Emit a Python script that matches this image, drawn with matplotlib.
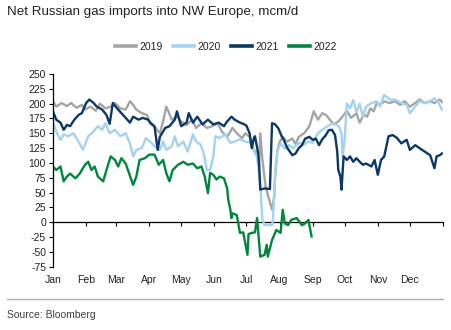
import matplotlib
matplotlib.use("Agg")
import matplotlib.pyplot as plt

plt.rcParams['font.family'] = ['Liberation Sans', 'DejaVu Sans']

title = "Net Russian gas imports into NW Europe, mcm/d"
source = "Source: Bloomberg"
month_labels = ["Jan", "Feb", "Mar", "Apr", "May", "Jun", "Jul", "Aug", "Sep", "Oct", "Nov", "Dec"]
month_starts = [0, 31, 59, 90, 120, 151, 181, 212, 243, 273, 304, 334, 365]
y_ticks = [-75, -50, -25, 0, 25, 50, 75, 100, 125, 150, 175, 200, 225, 250]

# Day-of-year readings for each year
days_2019 = [0, 3, 8, 13, 17, 22, 27, 30, 35, 40, 44, 49, 54, 58, 63, 68, 72, 75, 78, 83, 88, 91, 96, 100,
             103, 106, 108, 111, 116, 120, 125, 130, 134, 139, 144, 149, 154, 158, 163, 168, 172, 177, 180,
             184, 188, 191, 193, 194, 196, 199, 202, 205, 207, 208, 210, 212, 215, 219, 224, 227, 230, 235,
             240, 244, 248, 252, 256, 259, 263, 267, 270, 275, 279, 284, 287, 291, 294, 297, 300, 303, 306,
             310, 315, 320, 325, 329, 334, 339, 343, 348, 353, 357, 362, 364]
vals_2019 = [204, 195, 201, 196, 201, 193, 198, 190, 195, 188, 200, 192, 195, 201, 192, 190, 204, 198, 190,
             184, 181, 166, 159, 150, 170, 195, 187, 173, 178, 170, 164, 173, 159, 167, 159, 162, 167, 153,
             144, 159, 150, 142, 150, 144, 122, 117, 94, 150, 105, 60, 40, 21, 43, 80, 120, 135, 144, 136,
             141, 132, 144, 150, 162, 187, 173, 184, 180, 173, 165, 170, 176, 188, 176, 184, 168, 182, 178,
             192, 187, 201, 198, 204, 201, 204, 198, 204, 195, 201, 207, 201, 204, 201, 207, 203]

days_2020 = [0, 3, 7, 10, 14, 19, 24, 28, 33, 38, 42, 46, 49, 53, 58, 63, 68, 72, 75, 78, 83, 87, 91, 95,
             100, 103, 106, 111, 114, 117, 122, 126, 131, 134, 138, 141, 144, 147, 150, 152, 156, 161, 166,
             170, 175, 180, 184, 187, 191, 194, 196, 198, 202, 205, 206, 208, 210, 213, 217, 221, 225, 230,
             235, 239, 243, 248, 252, 257, 262, 266, 268, 270, 271, 273, 275, 278, 281, 284, 287, 290, 293,
             298, 303, 306, 310, 315, 320, 326, 331, 334, 339, 343, 348, 353, 357, 361, 364]
vals_2020 = [170, 153, 139, 148, 145, 150, 136, 122, 145, 153, 162, 156, 167, 150, 156, 145, 150, 133, 111,
             122, 125, 142, 136, 128, 122, 136, 122, 128, 145, 128, 136, 119, 148, 136, 131, 117, 88, 88,
             111, 145, 142, 148, 134, 136, 140, 136, 135, 124, 110, 62, 4, -5, -4, -5, 8, 88, 120, 133, 124,
             130, 125, 134, 131, 136, 134, 150, 156, 162, 167, 164, 160, 150, 111, 140, 200, 192, 206, 186,
             200, 178, 195, 201, 204, 195, 215, 207, 207, 201, 198, 184, 195, 204, 201, 204, 209, 201, 190]

days_2021 = [0, 3, 7, 10, 13, 16, 20, 24, 27, 31, 34, 38, 41, 46, 50, 53, 56, 60, 64, 68, 72, 75, 80, 84,
             89, 91, 95, 98, 100, 105, 109, 114, 116, 120, 125, 127, 131, 135, 140, 145, 150, 155, 160, 163,
             167, 170, 175, 178, 181, 184, 186, 188, 189, 192, 193, 194, 198, 203, 205, 208, 211, 214, 216,
             219, 224, 227, 230, 233, 236, 240, 243, 246, 249, 252, 255, 258, 261, 264, 266, 267, 269, 270,
             272, 275, 278, 281, 284, 287, 290, 293, 298, 301, 304, 307, 310, 314, 318, 322, 326, 331, 334,
             339, 343, 348, 353, 357, 359, 362, 364]
vals_2021 = [187, 173, 168, 156, 164, 162, 173, 181, 184, 201, 207, 201, 195, 190, 181, 166, 201, 192, 184,
             176, 168, 178, 173, 176, 173, 168, 162, 122, 144, 159, 162, 173, 187, 162, 168, 184, 168, 178,
             165, 173, 165, 168, 162, 170, 178, 173, 168, 166, 163, 150, 125, 142, 145, 117, 94, 55, 57, 56,
             167, 165, 158, 145, 139, 126, 113, 116, 125, 130, 141, 144, 139, 141, 130, 140, 146, 155, 156,
             147, 119, 88, 77, 55, 111, 105, 111, 102, 108, 102, 97, 99, 94, 105, 80, 105, 111, 145, 147,
             142, 133, 139, 122, 130, 125, 119, 113, 91, 111, 113, 116]

days_2022 = [0, 3, 7, 10, 13, 16, 21, 25, 30, 33, 36, 39, 42, 47, 50, 54, 58, 61, 64, 68, 75, 78, 81, 86,
             90, 95, 99, 103, 106, 109, 112, 117, 122, 126, 131, 135, 139, 142, 145, 147, 150, 153, 156, 160,
             163, 164, 166, 167, 168, 172, 175, 178, 182, 183, 186, 189, 191, 194, 198, 200, 201, 205, 209,
             213, 215, 217, 220, 223, 228, 233, 236, 239, 242]
vals_2022 = [94, 88, 94, 69, 77, 82, 74, 82, 97, 102, 88, 94, 77, 69, 88, 111, 105, 94, 108, 99, 63, 77, 105,
             108, 114, 114, 97, 105, 83, 69, 88, 97, 102, 97, 99, 91, 94, 77, 49, 83, 80, 72, 77, 74, 57, 38,
             21, 7, 15, 12, -18, -17, -55, -20, -18, -17, 7, -58, -55, -38, -58, -30, -13, -18, 21, -2, -5, 4,
             7, -5, -2, 4, -24]

series = [
    ("2019", days_2019, vals_2019, "#a5a5a5"),
    ("2020", days_2020, vals_2020, "#a3d2f2"),
    ("2021", days_2021, vals_2021, "#0a3868"),
    ("2022", days_2022, vals_2022, "#00873c"),
]

fig = plt.figure(figsize=(4.52, 3.30), dpi=100)
ax = fig.add_axes([53 / 452, 1 - 266.7 / 330, 390 / 452, (266.7 - 74) / 330])

for name, d, v, c in series:
    ax.plot(d, v, color=c, lw=1.7, label=name, solid_joinstyle='round')

ymin, ymax = -75, 250
ax.set_xlim(0, 365)
ax.set_ylim(ymin, ymax)
ax.set_yticks(y_ticks)
ax.set_yticklabels([str(t) for t in y_ticks])
ax.set_xticks(month_starts[:12])
ax.set_xticklabels(month_labels)
ax.tick_params(axis='x', length=0, pad=6, labelsize=7.5, labelcolor='#222222')
ax.tick_params(axis='y', length=3, width=0.8, direction='out', labelsize=7.5, labelcolor='#222222', pad=2)
for s in ['top', 'right', 'bottom']:
    ax.spines[s].set_visible(False)
ax.spines['left'].set_linewidth(0.9)

# zero line with downward ticks
zero_frac = (0 - ymin) / (ymax - ymin)
sec = ax.secondary_xaxis(zero_frac)
sec.set_xticks(month_starts)
sec.set_xticklabels([])
sec.tick_params(axis='x', length=3, width=0.8, direction='out')
sec.spines['bottom'].set_linewidth(0.9)

fig.text(7 / 452, 1 - 12 / 330, title, fontsize=9.6, color='#222222', va='center', ha='left')

handles, labels = ax.get_legend_handles_labels()
leg = fig.legend(handles, labels, loc='center', bbox_to_anchor=(0.5, 1 - 47 / 330), ncol=4, frameon=False,
                 fontsize=7.5, handlelength=2.0, handletextpad=0.35, columnspacing=1.0)
for line in leg.get_lines():
    line.set_linewidth(2.6)
for t in leg.get_texts():
    t.set_color('#222222')

fig.add_artist(plt.Line2D([7 / 452, 443 / 452], [1 - 299 / 330, 1 - 299 / 330], transform=fig.transFigure,
                          color='#b0b0b0', lw=1.0))
fig.text(7 / 452, 1 - 315 / 330, source, fontsize=7.5, color='#404040', va='center', ha='left')

fig.savefig("out.png", dpi=100)
